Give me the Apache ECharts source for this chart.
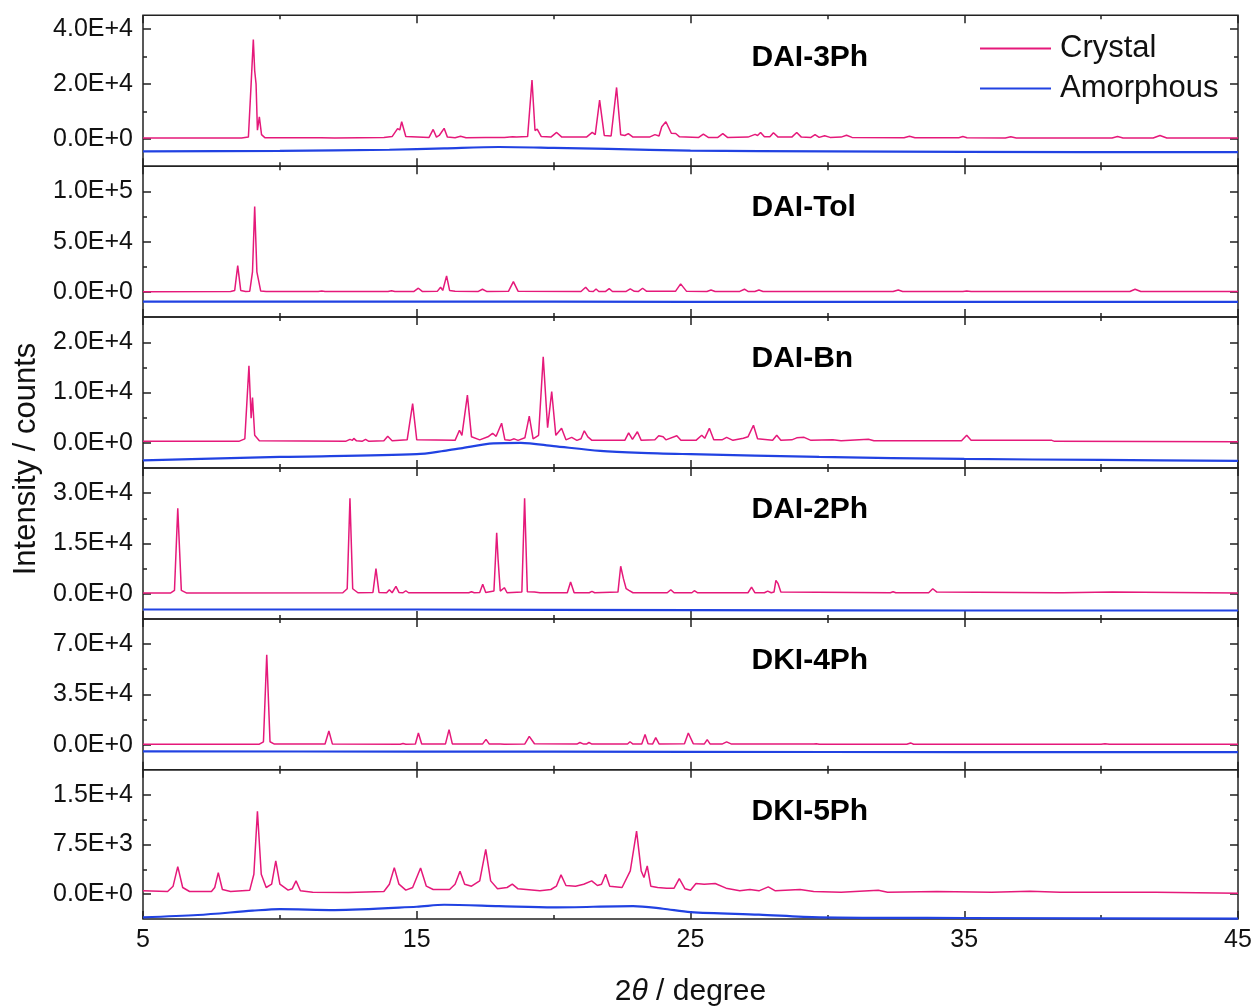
<!DOCTYPE html>
<html>
<head>
<meta charset="utf-8">
<script src="https://cdn.jsdelivr.net/npm/echarts@6/dist/echarts.min.js"></script>
<style>html,body{margin:0;padding:0;background:#fff;}#chart{width:1257px;height:1008px;}</style>
</head>
<body>
<div id="chart"></div>
<script>
// ---------- data (2θ in degrees, intensity in counts) ----------
const panelNames = ['DAI-3Ph', 'DAI-Tol', 'DAI-Bn', 'DAI-2Ph', 'DKI-4Ph', 'DKI-5Ph'];
const xTicksMajor = [5, 15, 25, 35, 45];
const xTicksMinor = [10, 20, 30, 40];
const yMin = [-10000, -25000, -5000, -7500, -17500, -3750];
const yMax = [45000, 125000, 25000, 37500, 87500, 18750];
const yTicksMajor = [[0, 20000, 40000], [0, 50000, 100000], [0, 10000, 20000], [0, 15000, 30000], [0, 35000, 70000], [0, 7500, 15000]];
const yTicksMinor = [[10000, 30000], [25000, 75000], [5000, 15000], [7500, 22500], [17500, 52500], [3750, 11250]];

const crystalDAI3Ph = [[5,300],[8.6,300],[8.85,600],[8.95,20000],[9.03,36200],[9.08,24800],[9.13,20000],[9.18,3100],[9.25,8000],[9.33,1500],[9.45,400],
 [11.5,400],[12.0,300],[13.8,500],[14.1,800],[14.3,3700],[14.38,3200],[14.45,6200],[14.6,800],
 [15.45,500],[15.6,3400],[15.72,600],[15.82,1200],[15.89,2200],[15.94,1500],[16.0,3800],[16.12,600],
 [16.4,400],[16.6,900],[16.8,400],[17.5,500],[17.55,800],[17.6,500],[18.05,500],[18.1,1000],[18.2,500],[18.5,700],[18.56,1100],[18.65,600],
 [19.05,800],[19.21,21400],[19.32,3000],[19.4,3500],[19.55,800],[19.9,600],[20.11,2300],[20.3,600],
 [21.2,600],[21.41,2300],[21.52,1500],[21.68,14100],[21.85,1200],[22.1,1000],[22.3,18700],[22.45,1500],[22.6,1200],[22.73,1900],[22.9,600],
 [23.5,600],[23.7,1500],[23.85,1000],[23.95,4400],[24.1,6200],[24.3,2000],[24.46,1900],[24.6,700],
 [25.3,500],[25.47,1700],[25.65,500],[26.0,500],[26.18,1900],[26.35,500],[27.1,600],[27.36,1600],[27.45,1200],[27.56,2300],[27.7,700],[27.9,700],[28.03,2200],[28.2,600],
 [28.7,600],[28.88,2300],[29.05,600],[29.4,500],[29.55,1500],[29.7,500],[29.9,1100],[30.1,500],[30.5,600],[30.7,1300],[30.9,500],
 [32.8,400],[33.0,900],[33.2,400],[34.8,400],[34.95,800],[35.1,400],[36.5,300],[36.7,700],[36.9,300],[40.4,300],[40.6,800],[40.8,300],[41.9,300],[42.15,1200],[42.4,300],[45,300]];
const amorphDAI3Ph = [[5,-4600],[10,-4400],[14,-4000],[16,-3500],[18,-3000],[20,-3300],[22,-3700],[25,-4300],[30,-4600],[35,-4800],[45,-4900]];

const crystalDAITol = [[5,300],[8.2,400],[8.35,1500],[8.46,26200],[8.57,1500],[8.75,500],[8.9,800],[9.0,20000],[9.08,85000],[9.16,20000],[9.3,900],[9.5,400],
 [11.4,400],[11.53,900],[11.65,400],[13.95,400],[14.08,1200],[14.2,400],[14.9,500],[15.06,3700],[15.2,500],[15.75,600],[15.87,4700],[15.95,1500],[16.09,16000],[16.2,1500],[16.4,600],
 [17.25,500],[17.4,2700],[17.55,500],[18.35,600],[18.53,10300],[18.7,800],
 [21.0,500],[21.17,4700],[21.3,600],[21.45,500],[21.55,3000],[21.65,500],[21.9,500],[22.03,3300],[22.15,500],[22.65,500],[22.8,3000],[22.95,600],[23.1,500],[23.25,3700],[23.4,600],
 [24.45,600],[24.64,8000],[24.85,800],[25.6,500],[25.75,2000],[25.9,500],[26.8,500],[26.97,2700],[27.1,500],[27.35,500],[27.5,2000],[27.65,500],
 [32.4,400],[32.59,2000],[32.75,400],[34.95,400],[35.09,1000],[35.25,400],[41.05,400],[41.24,2700],[41.45,400],[45,400]];
const amorphDAITol = [[5,-9700],[15,-9600],[25,-9800],[35,-9800],[45,-9800]];

const crystalDAIBn = [[5,300],[8.5,300],[8.72,800],[8.87,15300],[8.95,4900],[9.0,9000],[9.08,1500],[9.25,400],
 [12.4,300],[12.56,700],[12.65,500],[12.7,900],[12.8,400],[13.0,300],[13.13,700],[13.25,300],[13.8,400],[13.94,1300],[14.1,400],[14.65,600],[14.85,7800],[15.0,600],
 [16.4,500],[16.56,2500],[16.65,1500],[16.85,9500],[17.0,1200],[17.3,600],[17.6,1200],[17.77,1900],[17.9,1300],[18.1,3900],[18.22,600],[18.4,500],[18.56,800],[18.7,500],
 [18.95,1000],[19.11,5300],[19.25,800],[19.45,1500],[19.62,17100],[19.78,3000],[19.93,10200],[20.08,1500],[20.29,2900],[20.45,600],[20.66,1100],[20.85,500],[21.0,800],[21.12,2400],[21.25,1200],[21.4,500],
 [22.6,500],[22.74,2000],[22.88,700],[23.06,2200],[23.2,500],[23.7,600],[23.84,1400],[24.0,1200],[24.1,600],[24.5,1400],[24.65,500],[25.2,500],[25.41,1500],[25.52,900],[25.69,2900],[25.85,600],
 [26.15,600],[26.32,1100],[26.55,500],[26.93,900],[27.1,1200],[27.3,3500],[27.45,800],[28.0,500],[28.15,1500],[28.3,500],[28.7,600],[28.88,1000],[29.15,1100],[29.4,500],
 [30.2,600],[30.5,400],[31.5,700],[31.7,400],[34.9,400],[35.09,1500],[35.25,500],[38.2,500],[38.3,300],[45,200]];
const amorphDAIBn = [[5,-3500],[10,-2800],[15,-2250],[16,-1600],[16.6,-1100],[17.8,-100],[18.8,0],[20,-650],[21.7,-1600],[23.2,-2000],[25,-2250],[29.7,-2800],[35,-3200],[40,-3400],[45,-3600]];

const crystalDAI2Ph = [[5,200],[6.0,200],[6.15,1000],[6.27,25500],[6.4,1000],[6.6,200],[12.3,300],[12.46,1500],[12.56,28500],[12.66,1500],[12.85,300],[13.4,400],[13.51,7500],[13.62,400],
 [13.9,300],[14.0,1200],[14.1,300],[14.24,2200],[14.35,400],[14.5,300],[14.6,900],[14.7,300],[16.9,300],[17.0,600],[17.1,300],[17.3,400],[17.41,2800],[17.52,400],
 [17.82,800],[17.92,18200],[17.97,10400],[18.05,800],[18.2,1800],[18.3,300],[18.84,500],[18.94,28500],[19.04,600],[19.3,500],[19.5,300],[20.5,300],[20.62,3500],[20.75,300],
 [21.3,300],[21.4,700],[21.5,300],[22.35,500],[22.45,8200],[22.55,4500],[22.65,1500],[22.75,1000],[22.9,300],[24.15,300],[24.28,1200],[24.4,300],[25.05,300],[25.14,900],[25.25,300],
 [27.1,300],[27.23,2000],[27.35,300],[27.7,300],[27.82,800],[27.95,300],[28.05,500],[28.12,4000],[28.2,3000],[28.3,500],[32.3,300],[32.4,600],[32.5,300],
 [33.7,300],[33.85,1500],[34.0,500],[38.4,300],[38.44,600],[38.6,300],[40.4,500],[45,200]];
const amorphDAI2Ph = [[5,-4700],[15,-4700],[25,-4900],[35,-5000],[45,-5000]];

const crystalDKI4Ph = [[5,200],[9.25,300],[9.4,2000],[9.52,62500],[9.64,2000],[9.8,400],[11.65,400],[11.79,9500],[11.92,400],[14.4,300],[14.5,800],[14.6,300],
 [14.95,500],[15.06,8100],[15.18,500],[16.05,500],[16.18,10500],[16.3,500],[17.4,400],[17.53,3700],[17.65,400],[18.05,400],[18.1,700],[18.2,300],[18.95,500],[19.11,5800],[19.3,600],
 [20.85,400],[20.96,1500],[21.1,400],[21.2,400],[21.29,1500],[21.4,400],[22.7,400],[22.79,2000],[22.9,400],[23.22,500],[23.34,7000],[23.45,600],[23.62,500],[23.73,4900],[23.85,500],
 [24.78,600],[24.92,8100],[25.1,700],[25.5,400],[25.61,3500],[25.72,400],[26.15,400],[26.32,1900],[26.5,400],[29.5,400],[29.6,700],[29.7,300],
 [32.9,300],[33.04,1200],[33.15,300],[40.0,300],[40.14,700],[40.3,300],[45,300]];
const amorphDKI4Ph = [[5,-4700],[15,-4800],[25,-5000],[35,-5200],[45,-5200]];

const crystalDKI5Ph = [[5,500],[5.9,400],[6.1,1200],[6.27,4150],[6.45,1000],[6.7,400],[7.5,400],[7.62,1000],[7.75,3250],[7.9,700],[8.2,400],[8.9,600],[9.05,3000],[9.18,12500],[9.32,3000],
 [9.5,1000],[9.7,1500],[9.85,5000],[10.0,1500],[10.3,600],[10.45,800],[10.59,2000],[10.75,500],[11.2,300],[12.5,250],[13.8,400],[14.0,1500],[14.18,4000],[14.35,1500],[14.6,600],
 [14.85,1000],[15.14,3950],[15.35,1200],[15.6,700],[16.2,700],[16.4,1500],[16.58,3450],[16.75,1500],[17.0,1200],[17.3,2000],[17.52,6750],[17.7,2000],[17.95,800],[18.3,1000],[18.49,1500],[18.7,800],
 [19.5,500],[19.9,700],[20.1,1200],[20.27,2900],[20.45,1300],[20.8,1200],[21.1,1500],[21.39,2000],[21.6,1300],[21.75,1500],[21.9,3000],[22.05,1200],[22.5,1000],[22.8,3500],[23.03,9500],
 [23.2,3500],[23.3,2500],[23.42,4250],[23.55,1200],[23.8,1000],[24.13,900],[24.4,900],[24.59,2350],[24.8,800],[25.0,600],[25.2,1600],[25.5,1500],[25.9,1600],[26.3,900],[26.8,500],
 [27.17,700],[27.5,500],[27.84,1100],[28.1,500],[29.0,700],[29.5,400],[30.5,300],[31.86,600],[32.2,300],[34.0,400],[36.0,300],[37.4,450],[38.5,300],[42,300],[45,150]];
const amorphDKI5Ph = [[5,-3500],[7,-3150],[9,-2500],[10,-2250],[12,-2400],[15,-1900],[16,-1600],[18,-1800],[20,-2000],[22.9,-1800],[24,-2200],[25,-2700],[27.5,-3100],[29.7,-3500],[35,-3600],[45,-3700]];

const crystalSets = [crystalDAI3Ph, crystalDAITol, crystalDAIBn, crystalDAI2Ph, crystalDKI4Ph, crystalDKI5Ph];
const amorphSets = [amorphDAI3Ph, amorphDAITol, amorphDAIBn, amorphDAI2Ph, amorphDKI4Ph, amorphDKI5Ph];

// ---------- layout / style ----------
const FONT = '"Liberation Sans", Arial, Helvetica, sans-serif';
const CRYSTAL_COLOR = '#E5197A';
const AMORPH_COLOR = '#2142E2';
const GRID_LEFT = 143, GRID_RIGHT = 19, GRID_TOP = 15.3, PANEL_H = 150.9;
const TICK = { color: '#222', width: 1.5 };

function sciLabel(v) {
  if (v === 0) return '0.0E+0';
  const e = Math.floor(Math.log10(Math.abs(v)) + 1e-9);
  const m = v / Math.pow(10, e);
  return m.toFixed(1) + 'E+' + e;
}

const grids = [], xAxes = [], yAxes = [], series = [], graphics = [];
for (let i = 0; i < 6; i++) {
  const top = GRID_TOP + i * PANEL_H;
  grids.push({ left: GRID_LEFT, right: GRID_RIGHT, top: top, height: PANEL_H, show: true, borderColor: '#222', borderWidth: 1.5, backgroundColor: 'transparent' });
  const isLast = i === 5;
  const xBase = { gridIndex: i, type: 'value', min: 5, max: 45, axisLine: { show: false, onZero: false }, splitLine: { show: false } };
  // bottom minor, bottom major, top minor, top major
  xAxes.push(Object.assign({}, xBase, { position: 'bottom', axisTick: { inside: true, length: 4, customValues: xTicksMinor, lineStyle: TICK }, axisLabel: { show: false } }));
  xAxes.push(Object.assign({}, xBase, {
    position: 'bottom',
    axisTick: { inside: true, length: 8, customValues: xTicksMajor, lineStyle: TICK },
    axisLabel: { show: isLast, customValues: xTicksMajor, fontSize: 25, fontFamily: FONT, color: '#111', margin: 9 },
    name: isLast ? '2{it|θ} / degree' : '', nameLocation: 'middle', nameGap: 58,
    nameTextStyle: { fontSize: 30, fontFamily: FONT, color: '#111', rich: { it: { fontSize: 30, fontFamily: FONT, fontStyle: 'italic', color: '#111' } } }
  }));
  xAxes.push(Object.assign({}, xBase, { position: 'top', axisTick: { inside: true, length: 4, customValues: xTicksMinor, lineStyle: TICK }, axisLabel: { show: false } }));
  xAxes.push(Object.assign({}, xBase, { position: 'top', axisTick: { inside: true, length: 8, customValues: xTicksMajor, lineStyle: TICK }, axisLabel: { show: false } }));

  const yBase = { gridIndex: i, type: 'value', min: yMin[i], max: yMax[i], axisLine: { show: false, onZero: false }, splitLine: { show: false } };
  yAxes.push(Object.assign({}, yBase, { position: 'left', axisTick: { inside: true, length: 4, customValues: yTicksMinor[i], lineStyle: TICK }, axisLabel: { show: false } }));
  yAxes.push(Object.assign({}, yBase, {
    position: 'left',
    axisTick: { inside: true, length: 8, customValues: yTicksMajor[i], lineStyle: TICK },
    axisLabel: { show: true, customValues: yTicksMajor[i], formatter: sciLabel, fontSize: 25, fontFamily: FONT, color: '#111', margin: 10 }
  }));
  yAxes.push(Object.assign({}, yBase, { position: 'right', axisTick: { inside: true, length: 4, customValues: yTicksMinor[i], lineStyle: TICK }, axisLabel: { show: false } }));
  yAxes.push(Object.assign({}, yBase, { position: 'right', axisTick: { inside: true, length: 8, customValues: yTicksMajor[i], lineStyle: TICK }, axisLabel: { show: false } }));

  series.push({ name: 'Amorphous', type: 'line', xAxisIndex: 4 * i + 1, yAxisIndex: 4 * i + 1, data: amorphSets[i], showSymbol: false, symbol: 'none', smooth: 0.3, lineStyle: { color: AMORPH_COLOR, width: 2.2 }, itemStyle: { color: AMORPH_COLOR }, animation: false, z: 2 });
  series.push({ name: 'Crystal', type: 'line', xAxisIndex: 4 * i + 1, yAxisIndex: 4 * i + 1, data: crystalSets[i], showSymbol: false, symbol: 'none', lineStyle: { color: CRYSTAL_COLOR, width: 1.5 }, itemStyle: { color: CRYSTAL_COLOR }, animation: false, z: 3 });

  graphics.push({ type: 'text', x: 751.5, y: top + 42, style: { text: panelNames[i], fontSize: 30, fontWeight: 'bold', fontFamily: FONT, fill: '#000', align: 'left', verticalAlign: 'middle' }, z: 10 });
}
graphics.push({ type: 'text', x: 26, y: 459, rotation: Math.PI / 2, style: { text: 'Intensity / counts', fontSize: 31, fontFamily: FONT, fill: '#111', align: 'center', verticalAlign: 'middle' }, z: 10 });

const chart = echarts.init(document.getElementById('chart'));
chart.setOption({
  animation: false,
  backgroundColor: '#fff',
  grid: grids,
  xAxis: xAxes,
  yAxis: yAxes,
  legend: {
    data: ['Crystal', 'Amorphous'], orient: 'vertical', left: 980, top: 33, padding: 0, icon: 'rect', itemWidth: 71, itemHeight: 2, itemGap: 9,
    textStyle: { fontSize: 31, fontFamily: FONT, color: '#111', padding: [0, 0, 0, 4] }
  },
  graphic: graphics,
  series: series
});
</script>
</body>
</html>
